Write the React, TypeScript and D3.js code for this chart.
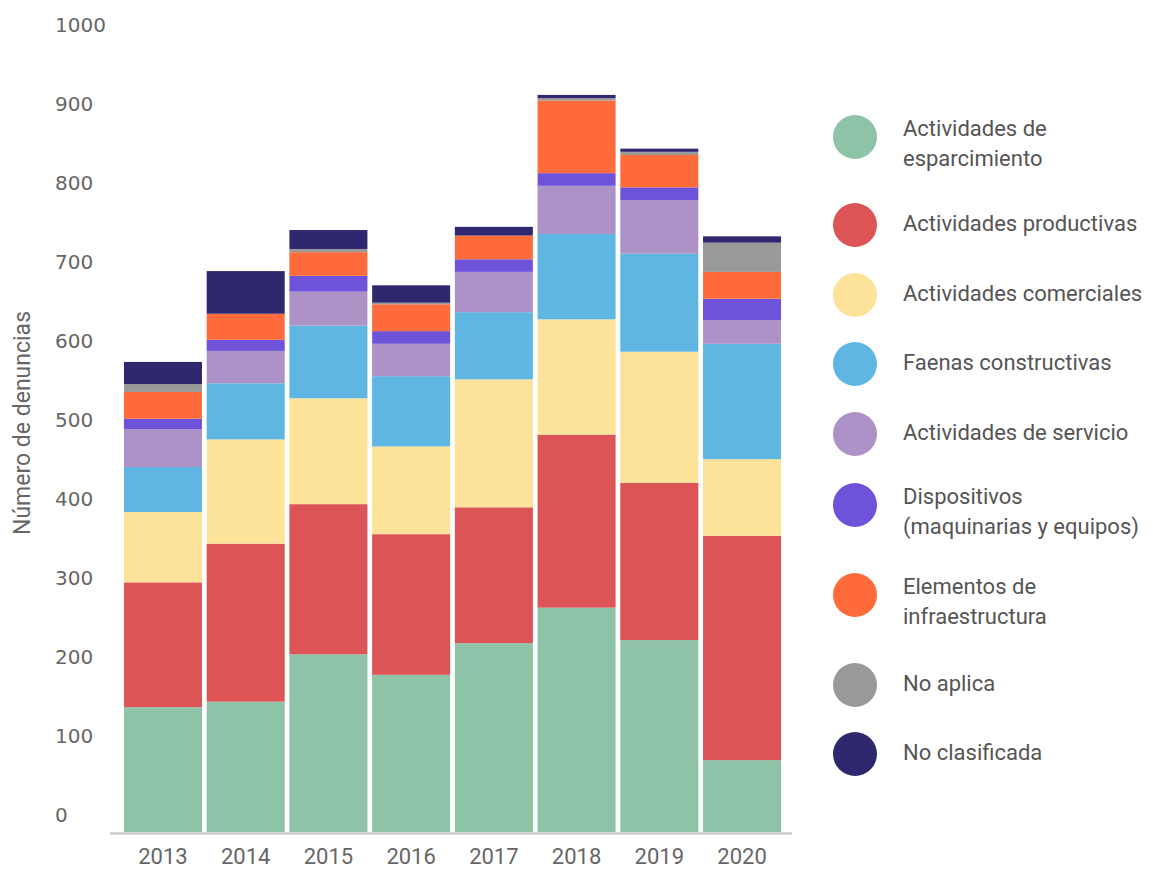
import React from "react";
import * as d3 from "d3";

const years = ["2013", "2014", "2015", "2016", "2017", "2018", "2019", "2020"];

const categories = [
  "Actividades de esparcimiento",
  "Actividades productivas",
  "Actividades comerciales",
  "Faenas constructivas",
  "Actividades de servicio",
  "Dispositivos (maquinarias y equipos)",
  "Elementos de infraestructura",
  "No aplica",
  "No clasificada",
];

const legendLines = [
  ["Actividades de", "esparcimiento"],
  ["Actividades productivas"],
  ["Actividades comerciales"],
  ["Faenas constructivas"],
  ["Actividades de servicio"],
  ["Dispositivos", "(maquinarias y equipos)"],
  ["Elementos de", "infraestructura"],
  ["No aplica"],
  ["No clasificada"],
];

const colors = [
  "#8EC3A8",
  "#DC5456",
  "#FDE299",
  "#5FB6E3",
  "#AD92C8",
  "#6F52DA",
  "#FF6B3B",
  "#999999",
  "#30286E",
];

// values per category, one per year (2013..2020)
const esparcimiento = [158, 165, 225, 199, 239, 284, 243, 91];
const productivas = [158, 200, 190, 178, 172, 219, 199, 284];
const comerciales = [89, 132, 134, 111, 162, 146, 166, 97];
const faenas = [57, 71, 92, 89, 85, 108, 124, 146];
const servicio = [48, 41, 43, 41, 51, 61, 68, 30];
const dispositivos = [13, 14, 20, 16, 16, 16, 16, 27];
const infraestructura = [34, 33, 30, 34, 30, 92, 41, 34];
const noAplica = [10, 0, 4, 2, 0, 3, 4, 37];
const noClasificada = [28, 54, 24, 22, 11, 4, 4, 8];

const series = [
  esparcimiento,
  productivas,
  comerciales,
  faenas,
  servicio,
  dispositivos,
  infraestructura,
  noAplica,
  noClasificada,
];

const yTicks = [0, 100, 200, 300, 400, 500, 600, 700, 800, 900, 1000];

const legendY = [143, 223, 293, 362, 432, 511, 601, 683, 752];

export default function App() {
  const W = 1153;
  const H = 869;

  const rows = years.map((yr, i) => {
    const r: Record<string, number | string> = { year: yr };
    categories.forEach((c, k) => (r[c] = series[k][i]));
    return r;
  });

  const stack = d3.stack<any>().keys(categories);
  const stacked = stack(rows as any);

  const x = d3
    .scaleBand<string>()
    .domain(years)
    .range([121.6, 783.4])
    .paddingInner(0.057)
    .paddingOuter(0.0285);

  const y = d3.scaleLinear().domain([0, 1000]).range([832, 42]);

  const textColor = "#666666";

  return (
    <svg
      width={W}
      height={H}
      style={{ position: "absolute", left: 0, top: 0, background: "#fff" }}
    >
      {/* Bars */}
      {stacked.map((layer, k) => (
        <g key={k} fill={colors[k]}>
          {layer.map((d, i) => {
            const h = y(d[0]) - y(d[1]);
            if (h <= 0) return null;
            return (
              <rect
                key={i}
                x={x(years[i])}
                y={y(d[1])}
                width={x.bandwidth()}
                height={h}
              />
            );
          })}
        </g>
      ))}

      {/* X axis line */}
      <line
        x1={110}
        x2={792}
        y1={y(0) + 1.5}
        y2={y(0) + 1.5}
        stroke="#cccccc"
        strokeWidth={2.5}
      />

      {/* Y tick labels */}
      {yTicks.map((t) => (
        <text
          key={t}
          x={55}
          y={y(t) - 17}
          dy="0.35em"
          fontFamily="'DejaVu Sans', sans-serif"
          fontSize={20}
          fill={textColor}
        >
          {t}
        </text>
      ))}

      {/* X tick labels */}
      {years.map((yr) => (
        <text
          key={yr}
          x={(x(yr) as number) + x.bandwidth() / 2}
          y={864}
          fontFamily="Roboto, sans-serif"
          fontSize={22}
          textAnchor="middle"
          fill={textColor}
        >
          {yr}
        </text>
      ))}

      {/* Y axis title */}
      <text
        transform={`translate(30, 423) rotate(-90)`}
        textAnchor="middle"
        fontFamily="Roboto, sans-serif"
        fontSize={23}
        fill={textColor}
      >
        Número de denuncias
      </text>

      {/* Legend */}
      {categories.map((c, k) => {
        const lines = legendLines[k];
        const cy = legendY[k];
        const two = lines.length > 1;
        return (
          <g key={c}>
            <circle cx={855} cy={two ? cy - 6 : cy + 2} r={22} fill={colors[k]} />
            {lines.map((ln, j) => (
              <text
                key={j}
                x={903}
                y={two ? cy - 15 + j * 30.5 : cy}
                dy="0.35em"
                fontFamily="Roboto, sans-serif"
                fontSize={22}
                fill="#555555"
              >
                {ln}
              </text>
            ))}
          </g>
        );
      })}
    </svg>
  );
}
